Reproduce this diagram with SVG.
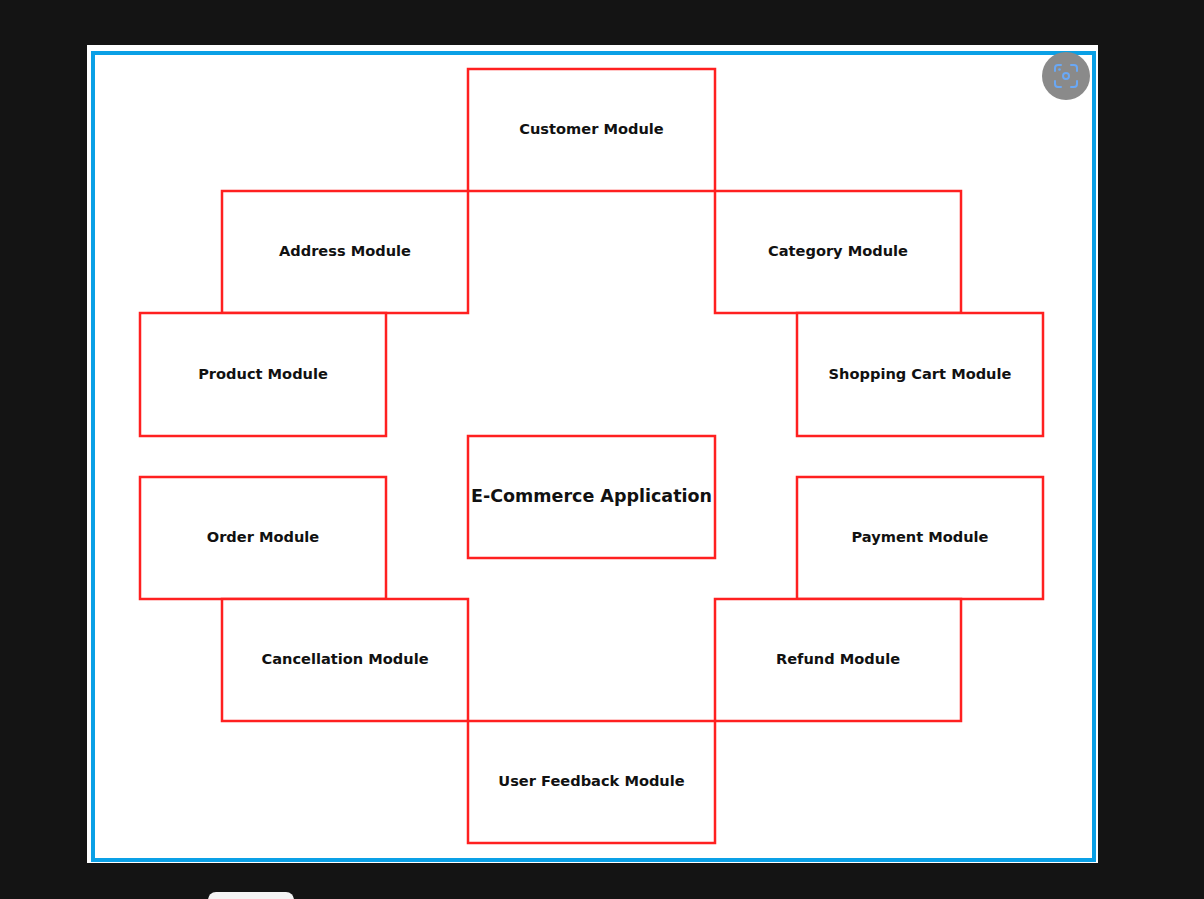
<svg xmlns="http://www.w3.org/2000/svg" width="1204" height="899" viewBox="0 0 1204 899">
<style>
.box{fill:#ffffff;stroke:#ff2020;stroke-width:2.5}
.t{font-family:"DejaVu Sans",sans-serif;font-weight:bold;font-size:14.6px;fill:#111;text-anchor:middle;dominant-baseline:central}
.big{font-size:17.5px}
</style>
<rect x="0" y="0" width="1204" height="899" fill="#141414"/>
<rect x="87" y="45" width="1011" height="818" fill="#ffffff"/>
<rect x="93" y="53" width="1001" height="807" fill="none" stroke="#0aa0e6" stroke-width="4"/>
<g id="connectors"></g>
<g id="customer"><rect class="box" x="468" y="69" width="247" height="122"/><text class="t" x="591.5" y="128.5">Customer Module</text></g>
<g id="address"><rect class="box" x="222" y="191" width="246" height="122"/><text class="t" x="345" y="250.5">Address Module</text></g>
<g id="category"><rect class="box" x="715" y="191" width="246" height="122"/><text class="t" x="838" y="250.5">Category Module</text></g>
<g id="product"><rect class="box" x="140" y="313" width="246" height="123"/><text class="t" x="263" y="373">Product Module</text></g>
<g id="cart"><rect class="box" x="797" y="313" width="246" height="123"/><text class="t" x="920" y="373">Shopping Cart Module</text></g>
<g id="app"><rect class="box" x="468" y="436" width="247" height="122"/><text class="t big" x="591.5" y="496">E-Commerce Application</text></g>
<g id="order"><rect class="box" x="140" y="477" width="246" height="122"/><text class="t" x="263" y="536.5">Order Module</text></g>
<g id="payment"><rect class="box" x="797" y="477" width="246" height="122"/><text class="t" x="920" y="536.5">Payment Module</text></g>
<g id="cancellation"><rect class="box" x="222" y="599" width="246" height="122"/><text class="t" x="345" y="658.5">Cancellation Module</text></g>
<g id="refund"><rect class="box" x="715" y="599" width="246" height="122"/><text class="t" x="838" y="658.5">Refund Module</text></g>
<g id="feedback"><rect class="box" x="468" y="721" width="247" height="122"/><text class="t" x="591.5" y="780.5">User Feedback Module</text></g>
<g id="overlay">
<circle cx="1066" cy="76" r="24" fill="#8a8a8a"/>
<g fill="none" stroke="#6aa8f5" stroke-width="2" stroke-linecap="round">
<path d="M1055 71v-3a3 3 0 0 1 3-3h3M1071 65h3a3 3 0 0 1 3 3v3M1077 81v3a3 3 0 0 1-3 3h-3M1061 87h-3a3 3 0 0 1-3-3v-3"/>
<circle cx="1066" cy="76" r="3"/>
</g>
<circle cx="1059.5" cy="69.5" r="1.3" fill="#6aa8f5"/>
<rect x="208" y="892" width="86" height="20" rx="8" fill="#f4f4f4"/>
</g>
</svg>
